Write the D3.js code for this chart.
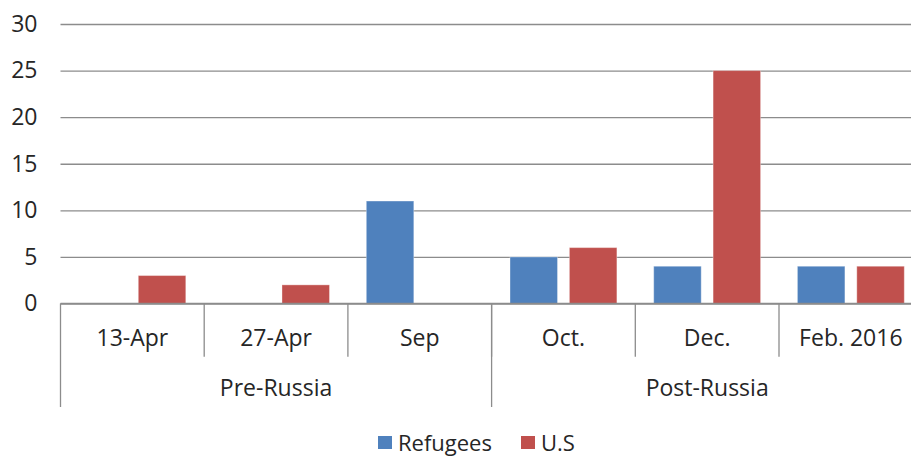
<!DOCTYPE html>
<html>
<head>
<meta charset="utf-8">
<script src="https://cdn.jsdelivr.net/npm/d3@7"></script>
<style>
  body { margin: 0; background: #fff; }
  svg text { font-family: "Open Sans", sans-serif; fill: #262626; }
</style>
</head>
<body>
<div id="chart"></div>
<script>
// chart data
const categories = ["13-Apr", "27-Apr", "Sep", "Oct.", "Dec.", "Feb. 2016"];
const groups = [
  { name: "Pre-Russia", members: ["13-Apr", "27-Apr", "Sep"] },
  { name: "Post-Russia", members: ["Oct.", "Dec.", "Feb. 2016"] }
];
const seriesNames = ["Refugees", "U.S"];
const refugees = [0, 0, 11, 5, 4, 4];
const us = [3, 2, 0, 6, 25, 4];
const yTicks = [0, 5, 10, 15, 20, 25, 30];
const colors = ["#4f81bd", "#c0504d"];

const width = 911, height = 457;
const margin = { top: 24, left: 60.5 };
const plotRight = 922.7;   // plot runs past the window edge in the reference
const zeroY = 303.5;

const svg = d3.select("#chart").append("svg")
  .attr("width", width)
  .attr("height", height);

const x = d3.scaleBand().domain(categories).range([margin.left, plotRight]).padding(0);
const xInner = d3.scaleBand().domain(seriesNames).range([0, x.bandwidth()])
  .paddingInner(0.2).paddingOuter(0.31);
const y = d3.scaleLinear().domain([0, 30]).range([zeroY, margin.top]);

// gridlines + y labels
const yAxis = svg.append("g")
  .attr("transform", `translate(${margin.left},0)`)
  .call(d3.axisLeft(y).tickValues(yTicks).tickSize(-(plotRight - margin.left)).tickPadding(23));
yAxis.select(".domain").remove();
yAxis.selectAll(".tick line").attr("stroke", "#8c8c8c").attr("stroke-width", 1.3);
yAxis.selectAll(".tick text")
  .attr("font-size", 23)
  .style("font-family", "'Open Sans', sans-serif")
  .attr("fill", "#262626");

// bars
const rows = categories.map((c, i) => ({ cat: c, values: [refugees[i], us[i]] }));
const catG = svg.append("g").selectAll("g")
  .data(rows)
  .join("g")
  .attr("transform", d => `translate(${x(d.cat)},0)`);

catG.selectAll("rect")
  .data(d => d.values.map((v, j) => ({ name: seriesNames[j], value: v, color: colors[j] })).filter(d => d.value > 0))
  .join("rect")
  .attr("x", d => xInner(d.name))
  .attr("width", xInner.bandwidth())
  .attr("y", d => y(d.value))
  .attr("height", d => zeroY - y(d.value))
  .attr("fill", d => d.color)
  .attr("stroke", "#ffffff")
  .attr("stroke-opacity", 0.35)
  .attr("stroke-width", 1);

// category axis (two levels)
const axisColor = "#8c8c8c";
const xAxis = svg.append("g");
xAxis.append("line")
  .attr("x1", margin.left).attr("x2", plotRight)
  .attr("y1", zeroY).attr("y2", zeroY)
  .attr("stroke", axisColor).attr("stroke-width", 1.3);

// inner category ticks
categories.forEach((c, i) => {
  if (i === 0) return;
  xAxis.append("line")
    .attr("x1", x(c)).attr("x2", x(c))
    .attr("y1", zeroY).attr("y2", 356.7)
    .attr("stroke", axisColor).attr("stroke-width", 1.3);
});

// group dividers
const groupEdges = [margin.left, x(groups[1].members[0]), plotRight];
groupEdges.forEach(gx => {
  xAxis.append("line")
    .attr("x1", gx).attr("x2", gx)
    .attr("y1", zeroY).attr("y2", 407)
    .attr("stroke", axisColor).attr("stroke-width", 1.3);
});

xAxis.selectAll("text.cat")
  .data(categories)
  .join("text")
  .attr("class", "cat")
  .attr("x", d => x(d) + x.bandwidth() / 2)
  .attr("y", 346)
  .attr("text-anchor", "middle")
  .attr("font-size", 23)
  .text(d => d);

xAxis.selectAll("text.grp")
  .data(groups)
  .join("text")
  .attr("class", "grp")
  .attr("x", d => (x(d.members[0]) + x(d.members[d.members.length - 1]) + x.bandwidth()) / 2)
  .attr("y", 396)
  .attr("text-anchor", "middle")
  .attr("font-size", 23)
  .text(d => d.name);

// legend
const legendItems = [
  { name: seriesNames[0], color: colors[0], x: 378 },
  { name: seriesNames[1], color: colors[1], x: 521 }
];
const legend = svg.append("g");
legendItems.forEach(d => {
  legend.append("rect")
    .attr("x", d.x).attr("y", 436)
    .attr("width", 14).attr("height", 13)
    .attr("fill", d.color);
  legend.append("text")
    .attr("x", d.x + 20).attr("y", 451)
    .attr("font-size", 22)
    .text(d.name);
});
</script>
</body>
</html>
